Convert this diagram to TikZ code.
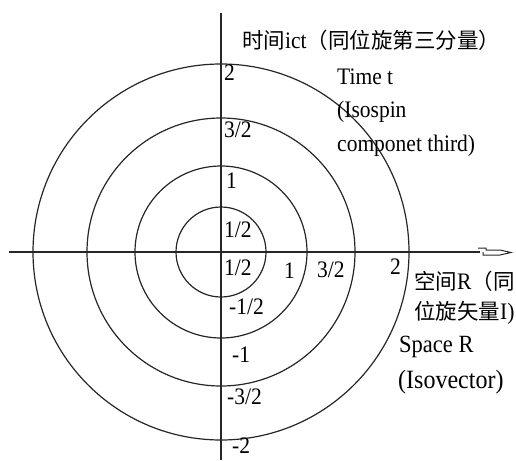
\documentclass[tikz,border=0pt]{standalone}
\usepackage{fontspec}
\setmainfont{Liberation Serif}
\newfontfamily\cjk{Noto Sans CJK SC}
\newcommand{\vs}[1]{\scalebox{1}[1.1]{#1}}
\begin{document}
\begin{tikzpicture}[x=1pt,y=-1pt,
  lbl/.style={anchor=west,inner sep=0pt,font=\fontsize{21.5}{21.5}\selectfont},
  cn/.style={anchor=west,inner sep=0pt,font=\fontsize{21.5}{21.5}\selectfont},
  ring/.style={draw=black!85,line width=1.2pt},
  axis/.style={draw=black!85,line width=1.4pt}]
\useasboundingbox (0,0) rectangle (516,460);
\coordinate (O) at (221,252);
\foreach \r in {45,86,134,188} \draw[ring] (O) circle (\r);
\coordinate (ytop) at (221,13);
\coordinate (ybot) at (221,460);
\coordinate (xl) at (9,252);
\coordinate (xr) at (480,252);
\draw[axis] (ytop) -- (ybot);
\draw[axis] (xl) -- (xr);
\draw[black!85,line width=1pt] (478,248) -- (486,248) -- (486,250) -- (500,250) -- (511,252.5) -- (500,255) -- (483,255) -- (483,252);
% labels
\node[cn] (tt) at (242,40) {\cjk 时间\rmfamily \vs{ict}\cjk （同位旋第三分量）};
\node[lbl] (time) at (337,77) {\vs{Time t}};
\node[lbl] (iso) at (337,112) {\vs{(Isospin}};
\node[lbl] (comp) at (337,146) {\vs{componet third)}};
\node[lbl] (t2) at (224,73) {\vs{2}};
\node[lbl] (t32) at (224,130) {\vs{3/2}};
\node[lbl] (t1) at (226,181) {\vs{1}};
\node[lbl] (t12) at (224,230) {\vs{1/2}};
\node[lbl] (r12) at (224,268) {\vs{1/2}};
\node[lbl] (r1) at (284,271) {\vs{1}};
\node[lbl] (r32) at (317,270) {\vs{3/2}};
\node[lbl] (r2) at (390,267) {\vs{2}};
\node[cn] (sp1) at (414,281) {\cjk 空间\rmfamily \vs{R}\cjk （同};
\node[cn] (sp2) at (414,313) {\cjk 位旋矢量\rmfamily \vs{I)}};
\node[lbl,font=\fontsize{22.5}{22.5}\selectfont] (space) at (399,347) {\vs{Space R}};
\node[lbl,font=\fontsize{24}{24}\selectfont] (isov) at (398,382) {\vs{(Isovector)}};
\node[lbl] (b12) at (229,307) {\vs{-1/2}};
\node[lbl] (b1) at (232,355) {\vs{-1}};
\node[lbl] (b32) at (227,397) {\vs{-3/2}};
\node[lbl] (b2) at (232,446) {\vs{-2}};
\end{tikzpicture}
\end{document}
